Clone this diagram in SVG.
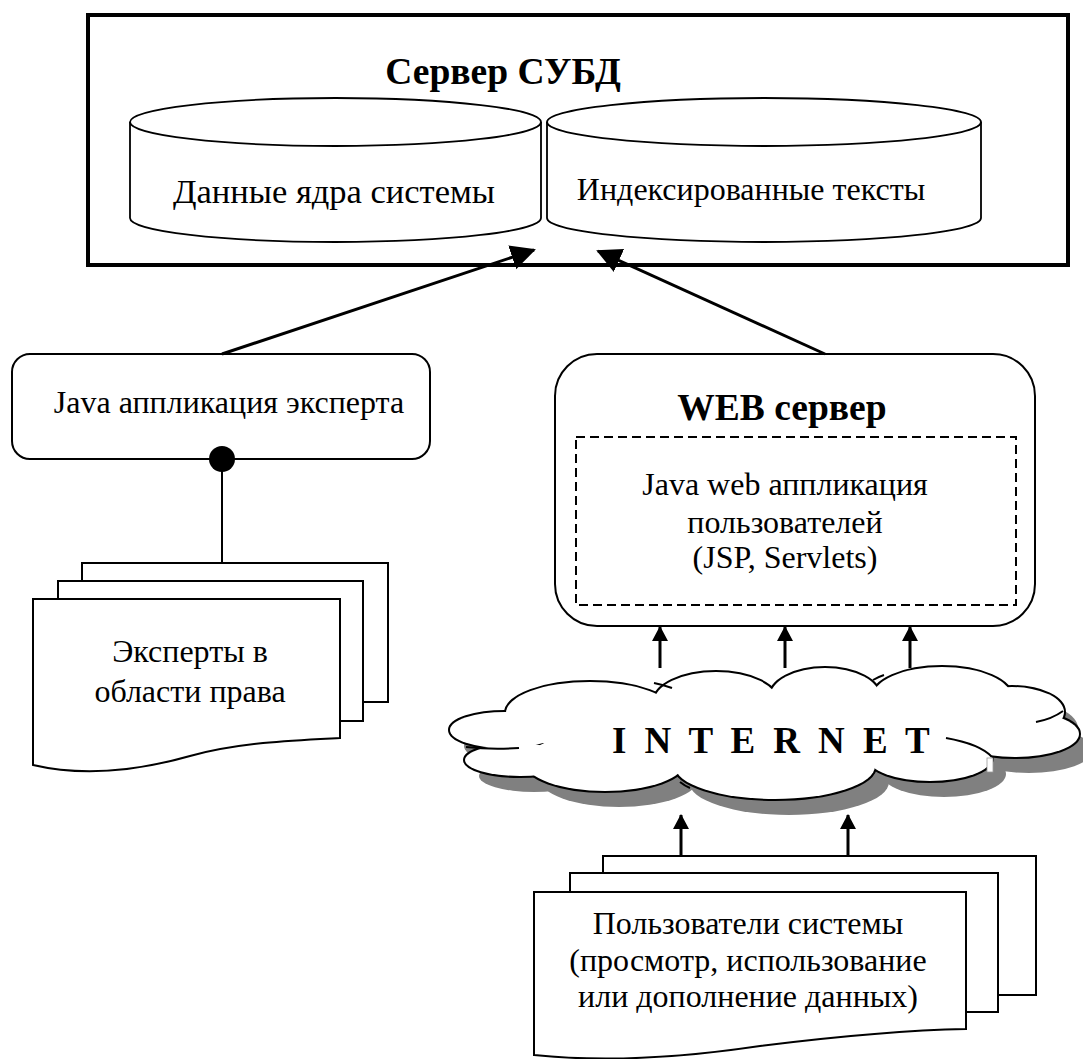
<svg xmlns="http://www.w3.org/2000/svg" xmlns:xlink="http://www.w3.org/1999/xlink" width="1083" height="1059" viewBox="0 0 1083 1059">
  <style>
    .t { font-family: "Liberation Serif", "Times New Roman", serif; font-size: 32px; text-anchor: middle; fill: #000; }
    .b { font-weight: bold; font-size: 37.5px; }
    .shape { fill: #fff; stroke: #000; stroke-width: 2; }
    .thin { fill: #fff; stroke: #000; stroke-width: 1.8; }
    .wire { fill: none; stroke: #000; stroke-width: 3; }
    .stub { fill: none; stroke: #000; stroke-width: 2; }
  </style>
  <defs>
    <marker id="headBig" markerUnits="userSpaceOnUse" markerWidth="26" markerHeight="26" refX="23" refY="12.5" orient="auto">
      <path d="M0,0 L25,12.5 L0,25 Z" fill="#000"/>
    </marker>
    <marker id="headSmall" markerUnits="userSpaceOnUse" markerWidth="17" markerHeight="17" refX="14" refY="8" orient="auto">
      <path d="M0,0 L15,8 L0,16 Z" fill="#000"/>
    </marker>
    <!-- cloud lobes: drawn stroked, then refilled, so only the outer outline stays -->
    <g id="lobes">
      <ellipse cx="505" cy="730" rx="55" ry="18"/>
      <ellipse cx="520" cy="760" rx="55" ry="16"/>
      <ellipse cx="590" cy="713" rx="84" ry="31"/>
      <ellipse cx="716" cy="702" rx="62" ry="30"/>
      <ellipse cx="825" cy="697" rx="55" ry="29"/>
      <ellipse cx="942" cy="698" rx="70" ry="31"/>
      <ellipse cx="1012" cy="712" rx="52" ry="25"/>
      <ellipse cx="1015" cy="734" rx="64" ry="23"/>
      <ellipse cx="930" cy="758" rx="62" ry="23"/>
      <ellipse cx="775" cy="766" rx="100" ry="33"/>
      <ellipse cx="605" cy="762" rx="80" ry="29"/>
      <ellipse cx="770" cy="730" rx="240" ry="40"/>
    </g>
  </defs>

  <rect width="1083" height="1059" fill="#fff"/>

  <!-- DBMS server with two storage cylinders -->
  <g id="dbms-server">
    <rect x="88" y="15" width="980" height="250" fill="#fff" stroke="#000" stroke-width="4"/>
    <text class="t b" x="503" y="84">Сервер СУБД</text>
  </g>
  <g id="core-data">
    <path class="thin" d="M130,122 L130,218 A205.5,24 0 0 0 541,218 L541,122"/>
    <ellipse class="thin" cx="335.5" cy="122" rx="205.5" ry="24"/>
    <text class="t" x="334" y="203" style="font-size:34.5px">Данные ядра системы</text>
  </g>
  <g id="indexed-texts">
    <path class="thin" d="M547,122 L547,218 A217,24 0 0 0 981,218 L981,122"/>
    <ellipse class="thin" cx="764" cy="122" rx="217" ry="24"/>
    <text class="t" x="751" y="200">Индексированные тексты</text>
  </g>

  <!-- expert application -->
  <g id="expert-app">
    <rect class="shape" x="12" y="354" width="418" height="105" rx="18"/>
    <text class="t" x="229" y="413">Java аппликация эксперта</text>
  </g>

  <!-- experts document stack -->
  <g id="experts">
    <rect class="shape" x="82" y="563" width="306" height="139"/>
    <rect class="shape" x="58" y="581" width="305" height="140"/>
    <path class="shape" d="M33,599 H340 V738 C300,740 240,742 190,756 C130,773 80,776 33,765 Z"/>
    <text class="t" x="190" y="662">Эксперты в</text>
    <text class="t" x="190" y="702">области права</text>
  </g>

  <!-- web server -->
  <g id="web-server">
    <rect class="shape" x="555" y="354" width="480" height="272" rx="42"/>
    <text class="t b" x="782" y="420">WEB сервер</text>
    <rect x="576" y="437" width="440" height="168" fill="none" stroke="#000" stroke-width="2" stroke-dasharray="9 5"/>
    <text class="t" x="785" y="495">Java web аппликация</text>
    <text class="t" x="785" y="533">пользователей</text>
    <text class="t" x="785" y="568">(JSP, Servlets)</text>
  </g>

  <!-- internet cloud with drop shadow -->
  <g id="internet">
    <use xlink:href="#lobes" fill="#808080" transform="translate(14,16)"/>
    <use xlink:href="#lobes" fill="#fff" stroke="#000" stroke-width="4"/>
    <use xlink:href="#lobes" fill="#fff" stroke="none"/>
    <path class="stub" d="M466,747 Q492,750 519,748"/>
    <path class="stub" d="M654,683 Q664,685 672,688"/>
    <path class="stub" d="M873,680 Q878,677 884,675"/>
    <path class="stub" d="M1036,722 Q1052,719 1063,711"/>
    <path class="stub" d="M946,738 Q980,744 992,757"/>
    <path class="stub" d="M680,782 Q685,786 690,788"/>
    <rect x="987" y="758" width="6" height="14" fill="#fff" stroke="#9a9a9a" stroke-width="0.8"/>
    <text class="t b" x="612" y="753" style="text-anchor:start; font-size:37px; letter-spacing:4.4px">I N T E R N E T</text>
  </g>

  <!-- system users document stack -->
  <g id="users">
    <rect class="shape" x="603" y="856" width="433" height="139"/>
    <rect class="shape" x="570" y="873" width="428" height="139"/>
    <path class="shape" d="M534,892 H966 V1029 C910,1030 840,1036 760,1046 C680,1058 600,1062 534,1055 Z"/>
    <text class="t" x="748" y="934">Пользователи системы</text>
    <text class="t" x="748" y="971">(просмотр, использование</text>
    <text class="t" x="748" y="1007">или дополнение данных)</text>
  </g>

  <!-- connectors -->
  <g id="connectors">
    <line class="wire" x1="222" y1="354" x2="534" y2="250" marker-end="url(#headBig)"/>
    <line class="wire" x1="825" y1="354" x2="598" y2="251" marker-end="url(#headBig)"/>
    <line x1="222" y1="459" x2="222" y2="563" stroke="#000" stroke-width="2"/>
    <circle cx="222" cy="459" r="13" fill="#000"/>
    <line class="wire" x1="660" y1="668" x2="660" y2="627" marker-end="url(#headSmall)"/>
    <line class="wire" x1="785" y1="668" x2="785" y2="627" marker-end="url(#headSmall)"/>
    <line class="wire" x1="910" y1="668" x2="910" y2="627" marker-end="url(#headSmall)"/>
    <line class="wire" x1="681" y1="856" x2="681" y2="815" marker-end="url(#headSmall)"/>
    <line class="wire" x1="848" y1="856" x2="848" y2="815" marker-end="url(#headSmall)"/>
  </g>
</svg>
